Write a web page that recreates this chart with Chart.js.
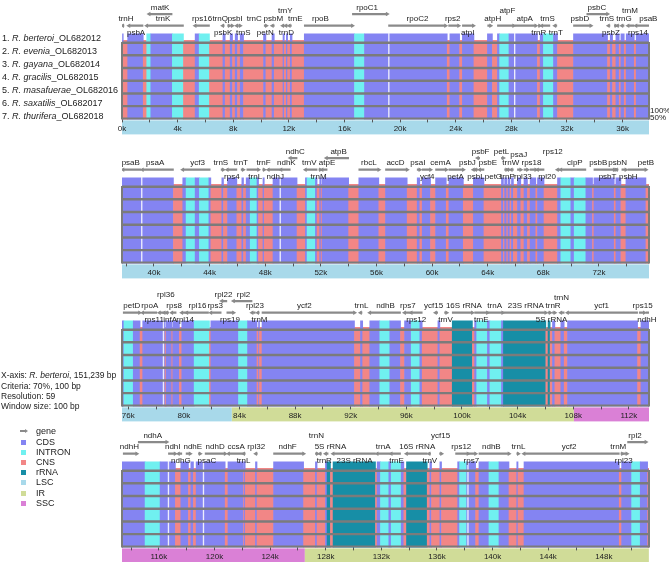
<!DOCTYPE html>
<html>
<head>
<meta charset="utf-8">
<script src="https://cdn.jsdelivr.net/npm/chart.js@4.4.0/dist/chart.umd.min.js"></script>
<style>
  body { margin: 0; width: 669px; height: 562px; overflow: hidden; background: #fff; position: relative;
         font-family: "Liberation Sans", Arial, sans-serif; font-size: 9px; color: #222; }
  canvas { position: absolute; left: 0; }
  .t { position: absolute; white-space: nowrap; line-height: 11px; }
  .sq { position: absolute; left: 21px; width: 5px; height: 5px; }
</style>
</head>
<body>
<canvas id="panel0" width="669" height="140" style="top:0px"></canvas>
<canvas id="panel1" width="669" height="140" style="top:144px"></canvas>
<canvas id="panel2" width="669" height="140" style="top:287px"></canvas>
<canvas id="panel3" width="669" height="140" style="top:428px"></canvas>
<div id="side"></div>
<script>
// ---- data (positions in kb) ----
const species = ['R. berteroi', 'R. evenia', 'R. gayana', 'R. gracilis', 'R. masafuerae', 'R. saxatilis', 'R. thurifera']
const accessions = ['OL682012', 'OL682013', 'OL682014', 'OL682015', 'OL682016', 'OL682017', 'OL682018']
const panelStarts = [0, 37.7, 75.55, 113.35]
const panelWidth = 37.9
const genomeLength = 151.239
const regionNames = ['LSC', 'IR', 'SSC', 'IR']
const regionStarts = [0, 83.45, 108.05, 126.5]

// conserved segments, C = CDS, I = intron, N = CNS, R = rRNA
const p1Edges = [0, 0.09, 0.41, 1.53, 1.78, 2.07, 3.62, 4.42, 5.26, 5.55, 6.29, 7.26, 7.42, 7.78, 7.95, 8.14, 8.31, 8.50, 8.74, 10.18,
  10.35, 10.79, 10.95, 11.58, 11.67, 11.82, 11.91, 12.10, 12.23, 13.11, 16.72, 17.44, 19.19, 23.39, 23.58, 24.28, 24.48, 25.31, 26.28, 26.64,
  27.00, 27.16, 27.83, 28.24, 29.88, 30.07, 30.31, 31.03, 31.32, 32.47, 34.92, 35.11, 35.28, 35.52, 35.76, 35.88, 36.12, 36.26, 36.84, 36.98, 37.9]
const p1Types = 'CNCNICINCINCNCNCNCNCNCNCNCNCNCICCNCNCNCNCICCNCICNCNCNCNCNCNC'
const p2Edges = [37.70, 39.12, 41.40, 42.07, 42.31, 42.96, 43.27, 43.95, 44.09, 44.88, 45.00, 45.29, 45.96, 46.32, 46.44, 46.63, 46.92, 47.41, 47.52, 47.84,
  47.93, 48.56, 49.08, 50.29, 50.89, 51.01, 51.61, 51.73, 51.92, 52.02, 52.09, 54.00, 54.73, 56.17, 56.65, 58.21, 58.93, 59.12, 59.29, 59.89,
  60.25, 61.02, 61.21, 62.25, 62.97, 63.73, 64.99, 65.13, 65.22, 65.37, 65.46, 65.60, 65.71, 65.85, 66.14, 66.38, 66.61, 66.86, 67.05, 67.46,
  67.58, 68.05, 69.02, 69.26, 69.98, 70.22, 71.06, 71.54, 71.64, 73.10, 73.22, 73.58, 73.94, 75.38, 75.60]
const p2Types = 'CCNCICICNCNCNCNCICNCNCCNCICNCNCNCNCNCNCNCNCNCNCNCNCNCNCNCNCNCNCICICNCNCNCN'
const p3Edges = [75.55, 75.69, 76.36, 76.85, 77.04, 78.53, 78.65, 78.72, 79.13, 79.20, 79.68, 79.85, 80.74, 81.84, 81.94, 83.93, 84.58, 85.26, 85.37, 85.44,
  85.62, 92.27, 92.70, 92.86, 93.37, 94.09, 94.81, 95.58, 95.87, 96.35, 96.97, 97.14, 98.27, 98.41, 99.30, 100.75, 100.91, 101.06, 101.83, 102.01,
  102.84, 102.98, 106.03, 106.19, 106.34, 106.51, 106.68, 107.11, 107.35, 107.59, 112.63, 112.87, 113.45]
const p3Types = 'CICNCCNCNCNCINCICNCNCNCNCICNCICNCNRNCICICRNRNCNCNCNC'
const p4Edges = [113.35, 115.01, 116.09, 116.69, 117.19, 117.58, 118.13, 118.30, 118.49, 118.68, 119.21, 120.77, 120.97, 122.09, 122.14, 122.21, 122.95, 123.06, 124.25, 126.41,
  127.26, 127.38, 127.98, 128.10, 128.34, 128.53, 131.58, 131.70, 131.94, 132.54, 132.71, 133.43, 133.62, 133.81, 135.30, 135.49, 135.61, 136.21, 136.33, 137.49,
  137.63, 138.14, 138.23, 138.78, 139.02, 139.74, 140.46, 141.18, 141.74, 141.83, 142.26, 149.11, 149.28, 150.00, 150.62, 151.15, 151.239]
const p4Types = 'CICCNCNCNCCNCNCNCNCNCNCRNRNCICICNRNCNCNCICCNCICNCNCNCICN'

// genes: direction (1 forward, -1 reverse, 0 none), arrow row (0 upper, 1 main), label level
const geneNames = [
  'trnH', 'psbA', 'matK', 'trnK', 'rps16', 'trnQ', 'psbK', 'psbI', 'trnS', 'trnC', 'petN', 'psbM', 'trnY', 'trnE', 'trnD', 'rpoB', 'rpoC1',
  'rpoC2', 'rps2', 'atpI', 'atpH', 'atpF', 'atpA', 'trnR', 'trnS', 'trnT', 'psbD', 'psbC', 'trnS', 'psbZ', 'trnG', 'trnM', 'rps14', 'psaB',
  'psaB', 'psaA', 'ycf3', 'trnS', 'rps4', 'trnT', 'trnL', 'trnF', 'ndhJ', 'ndhK', 'ndhC', 'trnV', 'trnM', 'atpE', 'atpB', 'rbcL', 'accD',
  'psaI', 'ycf4', 'cemA', 'petA', 'psbJ', 'psbL', 'psbF', 'psbE', 'petL', 'petG', 'trnW', 'trnP', 'psaJ', 'rpl33', 'rps18', 'rpl20', 'rps12',
  'clpP', 'psbB', 'psbT', 'psbN', 'psbH', 'petB',
  'petD', 'rpoA', 'rps11', 'rpl36', 'infA', 'rps8', 'rpl14', 'rpl16', 'rps3', 'rpl22', 'rps19', 'rpl2', 'rpl23', 'trnM', 'ycf2', 'trnL',
  'ndhB', 'rps7', 'rps12', 'ycf15', 'trnV', '16S rRNA', 'trnE', 'trnA', '23S rRNA', '5S rRNA', 'trnR', 'trnN', 'ycf1', 'rps15', 'ndhH',
  'ndhH', 'ndhA', 'ndhI', 'ndhG', 'ndhE', 'psaC', 'ndhD', 'ccsA', 'trnL', 'rpl32', 'ndhF', 'trnN', 'trnR', '5S rRNA', '23S rRNA', 'trnA',
  'trnE', '16S rRNA', 'trnV', 'ycf15', 'rps12', 'rps7', 'ndhB', 'trnL', 'ycf2', 'trnM', 'rpl23', 'rpl2']
const geneStart = [
  0.05, 0.50, 1.95, 1.78, 5.26, 7.24, 7.60, 7.82, 8.25, 8.39, 10.23, 10.81, 11.56, 11.78, 12.03, 13.11, 16.57,
  19.17, 23.49, 24.48, 26.30, 27.00, 28.24, 29.94, 30.19, 31.13, 32.47, 33.43, 34.98, 35.41, 35.63, 35.95, 36.39, 36.96,
  37.77, 39.16, 42.07, 44.83, 45.27, 46.27, 46.68, 47.82, 48.22, 49.13, 49.80, 50.89, 51.86, 52.09, 52.40, 54.73, 56.65,
  58.93, 59.29, 60.25, 61.21, 62.97, 63.13, 63.27, 63.42, 64.99, 65.22, 65.44, 65.69, 66.14, 66.61, 67.05, 67.58, 69.02,
  69.26, 71.64, 73.11, 73.26, 73.65, 74.08,
  75.64, 77.04, 78.24, 78.58, 78.76, 79.13, 79.85, 80.21, 81.94, 82.73, 83.09, 83.57, 84.90, 85.31, 85.62, 92.70,
  93.37, 95.87, 96.35, 98.10, 98.75, 99.30, 100.91, 101.85, 102.98, 106.19, 106.51, 107.11, 107.59, 112.75, 113.23,
  113.44, 114.52, 116.69, 117.41, 117.96, 118.85, 119.33, 121.01, 122.10, 122.97, 124.25, 127.26, 127.58, 127.99, 128.53, 131.70,
  132.71, 133.81, 135.43, 136.19, 137.34, 138.23, 139.02, 141.74, 142.26, 149.23, 149.38, 149.71]
const geneEnd = [
  0.14, 1.51, 3.60, 4.42, 6.29, 7.35, 7.71, 7.93, 8.36, 8.50, 10.38, 10.95, 11.67, 11.89, 12.18, 16.57, 19.07,
  23.27, 24.21, 25.27, 26.51, 28.17, 29.76, 30.04, 30.77, 31.27, 33.72, 34.92, 35.09, 35.52, 35.74, 36.10, 36.82, 37.97,
  39.05, 41.40, 44.04, 44.98, 45.96, 46.42, 47.52, 47.93, 49.08, 49.80, 50.29, 51.73, 51.97, 52.45, 54.00, 56.17, 58.21,
  59.12, 59.89, 61.02, 62.25, 63.13, 63.27, 63.42, 63.73, 65.13, 65.37, 65.58, 65.84, 66.38, 66.86, 67.46, 68.05, 69.19,
  71.06, 73.10, 73.22, 73.37, 73.94, 75.38,
  76.81, 78.05, 78.53, 78.68, 78.90, 79.44, 80.21, 81.77, 82.68, 83.09, 83.57, 84.90, 85.13, 85.42, 92.27, 92.81,
  95.58, 96.35, 97.14, 98.25, 98.90, 100.75, 101.83, 102.93, 106.03, 106.34, 106.68, 107.35, 112.63, 113.11, 113.52,
  114.41, 116.57, 117.17, 117.65, 118.25, 118.97, 120.77, 122.07, 122.21, 123.08, 126.41, 127.40, 127.69, 128.17, 131.58, 132.66,
  133.38, 135.30, 135.54, 136.33, 138.23, 138.78, 141.18, 141.85, 149.11, 149.34, 149.66, 151.03]
const geneDir = [
  -1, -1, -1, -1, -1, -1, 1, 1, -1, 1, 1, -1, -1, -1, -1, 1, 1,
  1, 1, 1, 1, 1, 1, 1, -1, -1, 1, 1, -1, 1, -1, -1, -1, -1,
  -1, -1, -1, 1, -1, 1, 1, 1, -1, -1, -1, -1, 1, -1, -1, 1, 1,
  1, 1, 1, 1, -1, -1, -1, -1, 1, 1, -1, -1, 1, 1, 1, -1, -1,
  -1, 1, 1, -1, 1, 1,
  1, -1, -1, -1, -1, -1, -1, -1, -1, -1, 1, -1, -1, -1, 1, -1,
  -1, -1, -1, -1, 1, 1, 1, 1, 1, 1, 1, -1, -1, 1, 0,
  1, 1, 1, -1, 1, 1, 1, -1, -1, -1, 1, 1, -1, -1, -1, -1,
  -1, -1, -1, 1, 1, 1, 1, 1, -1, 1, 1, 1]
const geneRow = [
  1, 1, 0, 1, 1, 1, 1, 1, 1, 1, 1, 1, 1, 1, 1, 1, 0,
  1, 1, 1, 1, 1, 1, 1, 1, 1, 1, 0, 1, 1, 1, 1, 1, 1,
  1, 1, 1, 1, 1, 1, 1, 1, 1, 1, 0, 1, 1, 1, 0, 1, 1,
  1, 1, 1, 1, 1, 1, 0, 1, 0, 1, 1, 1, 1, 1, 1, 1, 1,
  1, 1, 1, 1, 1, 1,
  1, 1, 1, 1, 1, 1, 1, 1, 1, 0, 1, 0, 1, 1, 1, 1,
  1, 1, 1, 1, 1, 1, 1, 1, 1, 1, 1, 1, 1, 1, 1,
  1, 0, 1, 1, 1, 1, 1, 1, 1, 1, 1, 1, 1, 1, 1, 1,
  1, 1, 1, 1, 1, 1, 1, 1, 1, 1, 1, 0]
const geneLevel = [
  1, 2, 0, 1, 1, 1, 2, 1, 2, 1, 2, 1, 3, 1, 2, 1, 0,
  1, 1, 2, 1, 3, 1, 2, 1, 2, 1, 0, 1, 2, 1, 3, 2, 1,
  1, 1, 1, 1, 2, 1, 2, 1, 2, 1, 0, 1, 2, 1, 0, 1, 1,
  1, 2, 1, 2, 1, 2, 0, 1, 0, 2, 1, 2, 3, 2, 1, 2, 0,
  1, 1, 2, 1, 2, 1,
  1, 1, 2, 0, 2, 1, 2, 1, 1, 0, 2, 0, 1, 2, 1, 1,
  1, 1, 2, 1, 2, 1, 2, 1, 1, 2, 1, 3, 1, 1, 2,
  1, 0, 1, 2, 1, 2, 1, 1, 2, 1, 1, 0, 2, 1, 2, 1,
  2, 1, 2, 0, 1, 2, 1, 1, 1, 1, 2, 0]
const geneLabelAt = [
  0.29, 1.01, 2.74, 2.95, 5.76, 7.06, 7.28, 8.14, 8.72, 9.51, 10.30, 10.88, 11.74, 12.46, 11.82, 14.27, 17.63,
  21.25, 23.78, 24.86, 26.66, 27.72, 28.96, 29.97, 30.60, 31.20, 32.93, 34.15, 34.87, 35.16, 36.10, 36.53, 37.11, 37.85,
  38.33, 40.08, 43.13, 44.81, 45.60, 46.25, 47.28, 47.88, 48.72, 49.52, 50.16, 51.17, 51.84, 52.45, 53.28, 55.45, 57.37,
  58.98, 59.65, 60.61, 61.69, 62.54, 63.16, 63.49, 64.02, 64.99, 64.41, 65.66, 65.42, 66.23, 66.53, 67.15, 68.27, 68.68,
  70.27, 71.95, 72.62, 73.34, 74.11, 75.38,
  76.25, 77.55, 77.86, 78.70, 79.01, 79.30, 80.09, 80.98, 82.25, 82.85, 83.31, 84.29, 85.11, 85.44, 88.66, 92.77,
  94.50, 96.11, 96.71, 97.96, 98.82, 100.14, 101.39, 102.35, 104.59, 106.44, 106.55, 107.16, 110.04, 112.99, 113.30,
  113.88, 115.56, 117.00, 117.58, 118.44, 119.45, 120.05, 121.56, 122.09, 123.00, 125.26, 127.33, 127.90, 128.34, 130.07, 132.13,
  133.09, 134.58, 135.49, 136.26, 137.75, 138.47, 139.91, 141.86, 145.51, 149.04, 149.43, 150.24]

// ---- styles ----
const FONT = '"Liberation Sans", Arial, sans-serif'
const segColors = { C: '#8484f2', I: '#70f0f0', N: '#f28686', R: '#178ea6' }
const regionColors = { LSC: '#a8d9ea', IR: '#d0dc98', SSC: '#da80d6' }
const geneColor = '#8a8a8a'
const lineColor = '#7b7b7b'
const LABEL_Y = [3.5, 15.5, 29.5, 7.5]
const ROW_Y = [10.5, 22.5]

const allEdges = [p1Edges, p2Edges, p3Edges, p4Edges]
const allTypes = [p1Types, p2Types, p3Types, p4Types]

function panelOfLabel(v) {
    for (let q = 0; q < panelStarts.length; q++) {
        if (v >= panelStarts[q] && v < panelStarts[q] + panelWidth) return q
    }
    return -1
}

const bandPlugin = {//colored region bar under the tracks
    id: 'regionBand',
    beforeDraw(chart) {
        const { ctx, chartArea, scales } = chart
        const x = scales.x
        ctx.save()
        regionNames.forEach(function (name, i) {
            const s = regionStarts[i]
            const e = i + 1 < regionStarts.length ? regionStarts[i + 1] : genomeLength
            const x1 = Math.max(x.getPixelForValue(s), chartArea.left)
            const x2 = Math.min(x.getPixelForValue(e), chartArea.right)
            if (x2 <= x1) return
            ctx.fillStyle = regionColors[name]
            ctx.fillRect(x1, chartArea.bottom + 1, x2 - x1, 14)
        })
        ctx.restore()
    }
}

const labelPlugin = {//gene names and track borders
    id: 'geneLabels',
    afterDatasetsDraw(chart, args, opts) {
        const { ctx, chartArea, scales } = chart
        ctx.save()
        ctx.strokeStyle = lineColor
        ctx.lineWidth = 2
        const top = scales.y.getPixelForValue(39.5)
        const bottom = scales.y.getPixelForValue(120)
        ctx.beginPath()
        ctx.moveTo(chartArea.left, top); ctx.lineTo(chartArea.left, bottom)
        ctx.moveTo(chartArea.right, top); ctx.lineTo(chartArea.right, bottom)
        ctx.stroke()
        ctx.font = '8px ' + FONT
        ctx.fillStyle = '#222'
        ctx.textAlign = 'center'
        ctx.textBaseline = 'middle'
        opts.genes.forEach(function (i) {
            ctx.fillText(geneNames[i], scales.x.getPixelForValue(geneLabelAt[i]), scales.y.getPixelForValue(LABEL_Y[geneLevel[i]]))
        })
        ctx.restore()
    }
}

for (let p = 0; p < 4; p++) {
    const lo = panelStarts[p]
    const hi = Math.min(lo + panelWidth, genomeLength + 0.01)
    const edges = allEdges[p]
    const types = allTypes[p].split('')
    const segs = types.map((t, i) => ({ s: edges[i], e: edges[i + 1], t: t }))
    const band = segs.filter(s => s.t !== 'N')
    const seps = []
    for (let i = 1; i < types.length; i++) {
        if (types[i] === types[i - 1] && types[i] !== 'N') seps.push(edges[i])
    }
    const genes = []
    geneNames.forEach((n, i) => { if (panelOfLabel(geneLabelAt[i]) === p) genes.push(i) })
    const heads = genes.filter(i => geneDir[i] !== 0)

    new Chart(document.getElementById('panel' + p), {
        type: 'bar',
        data: {
            datasets: [
                {//gene arrowheads
                    type: 'scatter', order: 0, clip: 0,
                    data: heads.map(i => ({ x: geneDir[i] > 0 ? geneEnd[i] : geneStart[i], y: ROW_Y[geneRow[i]] })),
                    pointStyle: 'triangle', pointRadius: 2.6, pointBorderWidth: 0,
                    pointBackgroundColor: geneColor,
                    pointRotation: heads.map(i => geneDir[i] > 0 ? 90 : 270)
                },
                {//gene bodies
                    order: 1, clip: 0, grouped: false, barThickness: 1.6,
                    data: genes.map(i => ({ x: [geneStart[i], geneEnd[i]], y: ROW_Y[geneRow[i]] })),
                    backgroundColor: geneColor
                },
                {//conservation lines on each track
                    order: 2, clip: 0, grouped: false, barThickness: 1.8,
                    data: [0, 1, 2, 3, 4, 5, 6].map(k => ({ x: [lo, hi], y: 40.2 + 13.2 * k })),
                    backgroundColor: lineColor
                },
                {//thin white gaps between neighbouring features
                    order: 3, clip: 0, grouped: false, barThickness: 88.3,
                    data: seps.map(b => ({ x: [b - 0.025, b + 0.025], y: 75.35 })),
                    backgroundColor: 'rgba(255,255,255,0.85)'
                },
                {//reference annotation strip
                    order: 4, clip: 0, grouped: false, barThickness: 8,
                    data: band.map(s => ({ x: [s.s, s.e], y: 35.2 })),
                    backgroundColor: band.map(s => segColors[s.t])
                },
                {//comparison tracks
                    order: 5, clip: 0, grouped: false, barThickness: 80,
                    data: segs.map(s => ({ x: [s.s, s.e], y: 79.5 })),
                    backgroundColor: segs.map(s => segColors[s.t])
                }
            ]
        },
        options: {
            indexAxis: 'y',
            responsive: false,
            animation: false,
            events: [],
            layout: { padding: { left: 122, right: 20, top: 0, bottom: 5 } },
            plugins: {
                legend: { display: false },
                tooltip: { enabled: false },
                geneLabels: { genes: genes }
            },
            scales: {
                x: {
                    type: 'linear', position: 'bottom', min: lo, max: hi, offset: false,
                    grid: { drawOnChartArea: false, drawTicks: true, tickLength: 3, color: '#555' },
                    border: { display: false },
                    ticks: {
                        stepSize: 2, includeBounds: false, autoSkip: false, maxRotation: 0, padding: 1.5,
                        color: '#222', font: { family: FONT, size: 8 },
                        callback: function (v) {
                            const r = Math.round(v)
                            return (Math.abs(v - r) < 1e-6 && r % 4 === 0) ? r + 'k' : ''
                        }
                    }
                },
                y: { type: 'linear', min: 0, max: 120, reverse: true, display: false, offset: false }
            }
        },
        plugins: [bandPlugin, labelPlugin]
    })
}

// ---- side texts ----
const side = document.getElementById('side')
function addText(html, left, cy, size) {
    const d = document.createElement('div')
    d.className = 't'
    d.style.left = left + 'px'
    d.style.top = (cy - 5.5) + 'px'
    if (size) d.style.fontSize = size + 'px'
    d.innerHTML = html
    side.appendChild(d)
}
species.forEach(function (s, i) {
    addText((i + 1) + '. <i>' + s + '</i>_' + accessions[i], 2, 38 + i * 13.1)
})
addText('100%', 650, 110, 8)
addText('50%', 650, 117, 8)
addText('X-axis: <i>' + species[0] + '</i>, 151,239 bp', 1, 375.7, 8.5)
addText('Criteria: 70%, 100 bp', 1, 386.1, 8.5)
addText('Resolution: 59', 1, 396.4, 8.5)
addText('Window size: 100 bp', 1, 406.8, 8.5)

// legend
const legendItems = ['CDS', 'INTRON', 'CNS', 'rRNA', 'LSC', 'IR', 'SSC']
const legendColors = [segColors.C, segColors.I, segColors.N, segColors.R, regionColors.LSC, regionColors.IR, regionColors.SSC]
addText('gene', 36, 431)
const g1 = document.createElement('div')
g1.style.cssText = 'position:absolute;left:20px;top:430px;width:5px;height:1.6px;background:' + geneColor
side.appendChild(g1)
const g2 = document.createElement('div')
g2.style.cssText = 'position:absolute;left:25px;top:428.5px;width:0;height:0;border-top:2.3px solid transparent;border-bottom:2.3px solid transparent;border-left:3.5px solid ' + geneColor
side.appendChild(g2)
legendItems.forEach(function (name, i) {
    const cy = 442 + i * 10.2
    const sq = document.createElement('div')
    sq.className = 'sq'
    sq.style.top = (cy - 2.5) + 'px'
    sq.style.background = legendColors[i]
    side.appendChild(sq)
    addText(name, 36, cy)
})
</script>
</body>
</html>
